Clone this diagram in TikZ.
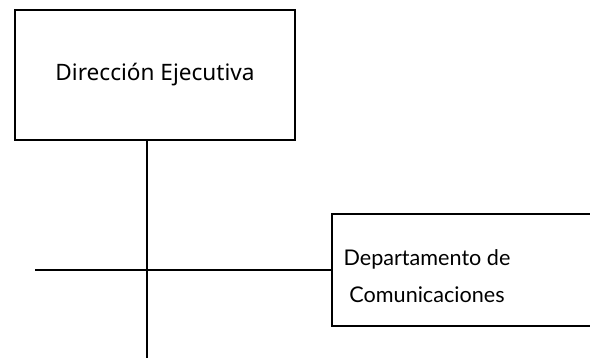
\documentclass[tikz,border=0pt]{standalone}
\usepackage{fontspec}
\setmainfont{Noto Sans}
\newfontfamily\deptfont{Lato}
\usetikzlibrary{positioning}

\begin{document}
\begin{tikzpicture}[x=0.5pt, y=-0.5pt, line width=0.6pt,
  orgbox/.style = {draw, inner sep=0pt, align=center},
  orgline/.style = {draw, line width=0.6pt}
]
\clip (0,0) rectangle (590,358);
% boxes
\node[orgbox, minimum width=140pt, minimum height=65pt, font=\fontsize{11.3}{13}\selectfont] (direccion) at (155,75) {Dirección Ejecutiva};
\node[orgbox, minimum width=134pt, minimum height=56pt] (depto) at (466,270) {};
\node[align=center, font=\deptfont\fontsize{10.8}{18.5}\selectfont] (deptotext) at (427,276) {Departamento de\\Comunicaciones};
% connectors
\coordinate (abajo) at (147,360);
\coordinate (izq) at (35,270);
\draw[orgline] (direccion.south -| abajo) -- (abajo);
\draw[orgline] (izq) -- (depto.west);
\end{tikzpicture}
\end{document}
